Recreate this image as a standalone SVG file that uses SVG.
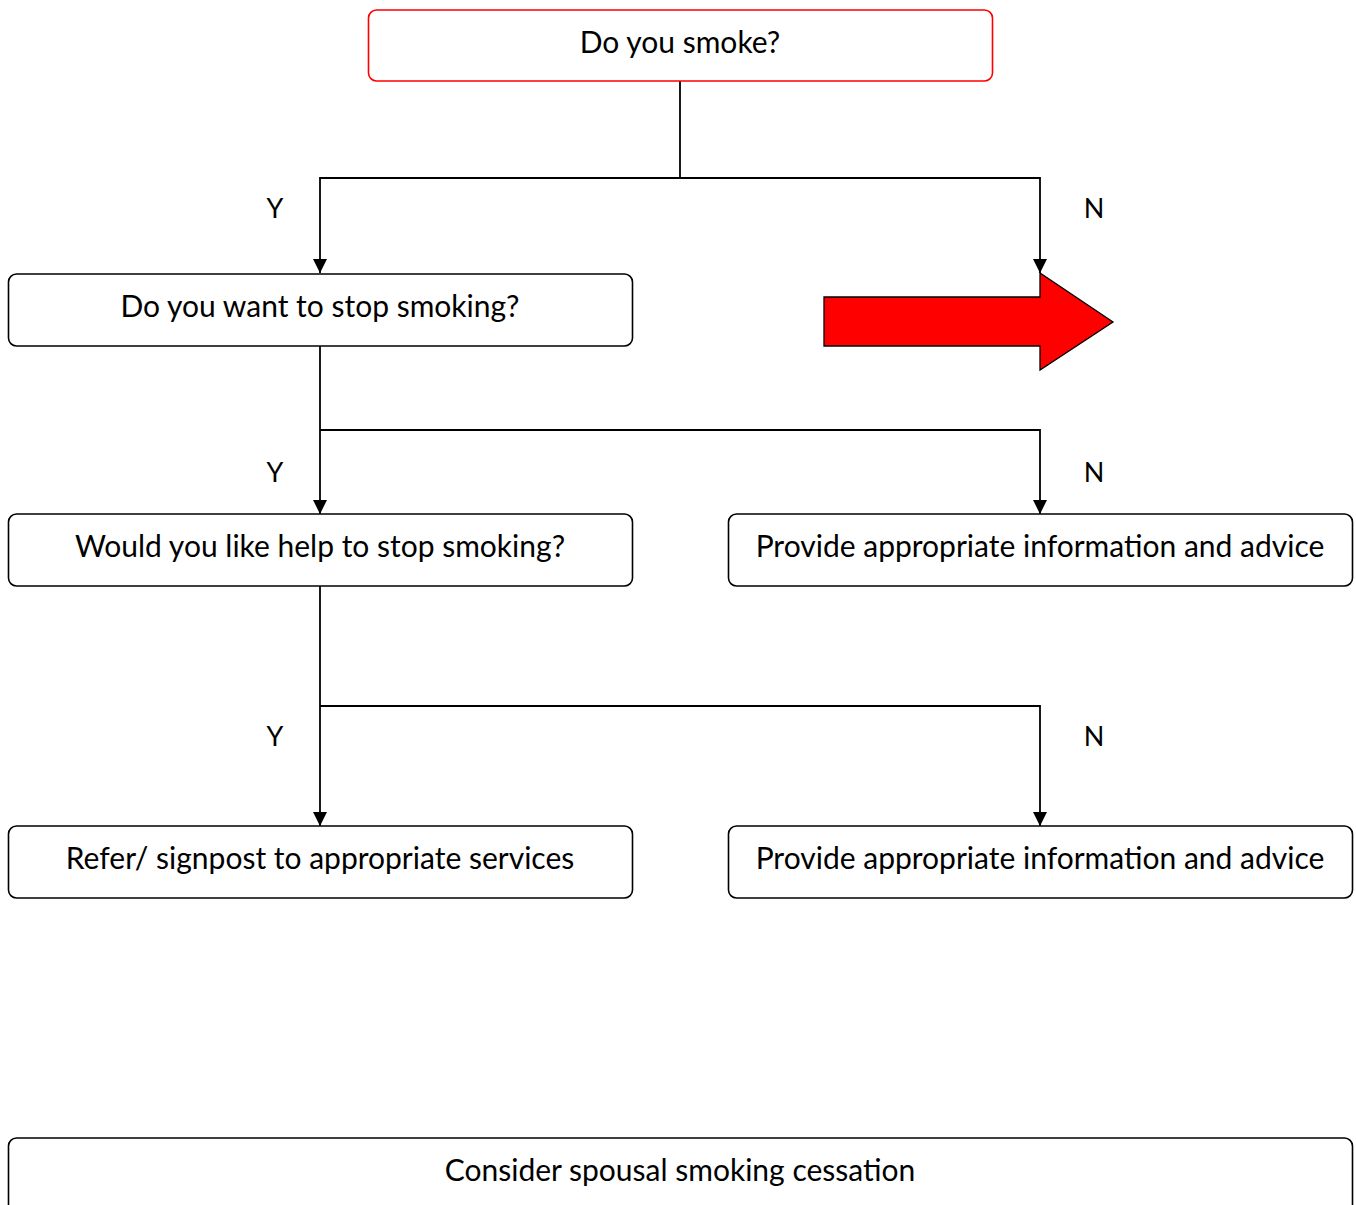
<svg xmlns="http://www.w3.org/2000/svg" width="1356" height="1205" viewBox="0 0 1356 1205">
  <defs>
    <style>
      .box { fill: #ffffff; stroke: #000000; stroke-width: 1.6; }
      .box.start { stroke: #ff0000; }
      .label { font-family: Lato, "Open Sans", "Liberation Sans", sans-serif; font-size: 30px; fill: #000000; text-anchor: middle; }
      .yn { font-family: Lato, "Open Sans", "Liberation Sans", sans-serif; font-size: 27px; fill: #000000; text-anchor: middle; }
      .wire { fill: none; stroke: #000000; stroke-width: 1.8; }
    </style>
    <marker id="arrow" viewBox="0 0 14 14" refX="14" refY="7" markerWidth="14" markerHeight="14" markerUnits="userSpaceOnUse" orient="auto">
      <path d="M0,0 L14,7 L0,14 Z" fill="#000000"/>
    </marker>
  </defs>

  <!-- connectors -->
  <g id="connectors">
    <path class="wire" d="M680,81 V178"/>
    <path class="wire" d="M680,178 H320 V273" marker-end="url(#arrow)"/>
    <path class="wire" d="M680,178 H1040 V273" marker-end="url(#arrow)"/>
    <path class="wire" d="M320,346 V430"/>
    <path class="wire" d="M320,430 V514" marker-end="url(#arrow)"/>
    <path class="wire" d="M320,430 H1040 V514" marker-end="url(#arrow)"/>
    <path class="wire" d="M320,586 V706"/>
    <path class="wire" d="M320,706 V826" marker-end="url(#arrow)"/>
    <path class="wire" d="M320,706 H1040 V826" marker-end="url(#arrow)"/>
    <text class="yn" x="275" y="218">Y</text>
    <text class="yn" x="1094" y="218">N</text>
    <text class="yn" x="275" y="482">Y</text>
    <text class="yn" x="1094" y="482">N</text>
    <text class="yn" x="275" y="746">Y</text>
    <text class="yn" x="1094" y="746">N</text>
  </g>

  <!-- big red arrow pointing right -->
  <g id="exit-arrow">
    <path d="M824,297 H1040 V273 L1113,322 L1040,370 V346 H824 Z" fill="#ff0000" stroke="#000000" stroke-width="1.3"/>
  </g>

  <g id="q-smoke">
    <rect class="box start" x="368.5" y="10" width="624" height="71" rx="8"/>
    <text class="label" x="680" y="53">Do you smoke?</text>
  </g>

  <g id="q-stop">
    <rect class="box" x="8.5" y="274" width="624" height="72" rx="8"/>
    <text class="label" x="320" y="317">Do you want to stop smoking?</text>
  </g>

  <g id="q-help">
    <rect class="box" x="8.5" y="514" width="624" height="72" rx="8"/>
    <text class="label" x="320" y="557">Would you like help to stop smoking?</text>
  </g>

  <g id="advice-1">
    <rect class="box" x="728.5" y="514" width="624" height="72" rx="8"/>
    <text class="label" x="1040" y="557">Provide appropriate information and advice</text>
  </g>

  <g id="refer">
    <rect class="box" x="8.5" y="826" width="624" height="72" rx="8"/>
    <text class="label" x="320" y="869">Refer/ signpost to appropriate services</text>
  </g>

  <g id="advice-2">
    <rect class="box" x="728.5" y="826" width="624" height="72" rx="8"/>
    <text class="label" x="1040" y="869">Provide appropriate information and advice</text>
  </g>

  <g id="spousal">
    <rect class="box" x="8.5" y="1138" width="1344" height="100" rx="8"/>
    <text class="label" x="680" y="1181">Consider spousal smoking cessation</text>
  </g>
</svg>
